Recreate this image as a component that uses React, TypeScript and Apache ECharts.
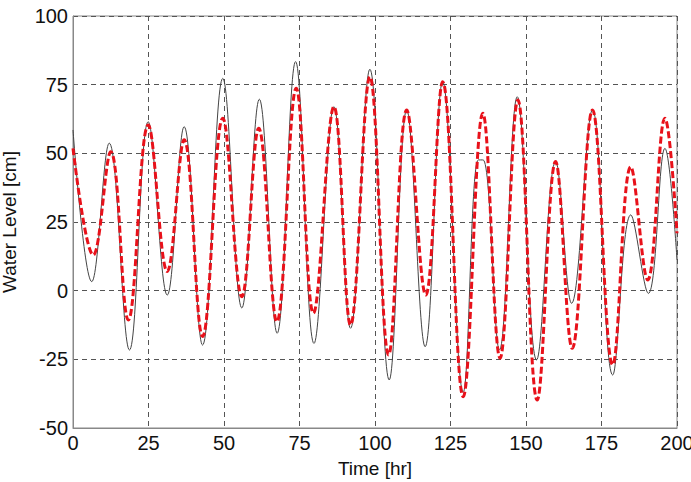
import React, { useEffect, useRef } from "react";
import * as echarts from "echarts";

const xTicks = [0, 25, 50, 75, 100, 125, 150, 175, 200];
const yTicks = [-50, -25, 0, 25, 50, 75, 100];

const observedTime = [0, 6.2, 12, 18.7, 24.9, 31.2, 36.8, 42.9, 49.6, 55.9, 61.7, 67.6, 73.7, 79.8, 86.4, 91.9, 98.3, 104.7, 110.5, 116.6, 122.4, 129.2, 134.2, 135.8, 141.2, 147.1, 153.5, 159.8, 165.1, 172, 178.7, 184.7, 190.5, 196, 200];
const observedLevel = [58.5, 3.3, 53.7, -21.6, 61.5, -1.6, 59.7, -19.8, 77.3, -6.3, 69.7, -15.5, 83.4, -19.2, 67, -13.7, 80.6, -32.5, 65.8, -20.4, 76.1, -37, 47.6, 47.6, -21.6, 70.6, -25.2, 47, -4.6, 65.8, -30.7, 27.6, -1, 51.8, 11.2];

const simulatedTime = [0, 6.7, 12.5, 18.3, 24.9, 31.2, 36.8, 42.9, 49.6, 55.9, 61.5, 67.5, 73.9, 79.6, 86.4, 91.9, 98.3, 104.5, 110.5, 116.8, 122.4, 129.2, 135.7, 141.4, 147.3, 153.7, 159.8, 165.3, 172, 178.7, 184.7, 190.3, 196, 200];
const simulatedLevel = [51.8, 13, 50.6, -10.7, 60.3, 7, 54.9, -16.7, 62.8, -2.2, 59.1, -11.3, 73.7, -8.2, 67, -12.5, 77.9, -23.4, 65.8, -1.6, 76.1, -38.6, 64.6, -24.6, 69.4, -39.8, 47, -21, 65.8, -27, 45.1, 3.9, 62.8, 20.9];

export default function App() {
  const ref = useRef<HTMLDivElement>(null);
  useEffect(() => {
    if (!ref.current) return;
    const chart = echarts.init(ref.current, null, { renderer: "svg" });
    const font = "Liberation Sans, Arial, sans-serif";
    const splitLine = { show: true, lineStyle: { color: "#555", width: 1, type: [5, 4] as any } };
    chart.setOption({
      animation: false,
      backgroundColor: "#fff",
      grid: {
        left: 73, right: 14, top: 16, bottom: 54,
        outerBoundsMode: "none",
        containLabel: false,
        show: true, borderColor: "#888", borderWidth: 1, backgroundColor: "transparent",
      },
      xAxis: {
        type: "value",
        min: xTicks[0],
        max: xTicks[xTicks.length - 1],
        interval: 25,
        name: "Time [hr]",
        nameLocation: "middle",
        nameGap: 31,
        nameTextStyle: { fontFamily: font, fontSize: 19, color: "#111" },
        axisLine: { show: true, onZero: false, lineStyle: { color: "#888" } },
        axisTick: { show: false },
        axisLabel: { fontFamily: font, fontSize: 20, color: "#111", margin: 5 },
        splitLine,
      },
      yAxis: {
        type: "value",
        min: yTicks[0],
        max: yTicks[yTicks.length - 1],
        interval: 25,
        name: "Water Level [cm]",
        nameLocation: "middle",
        nameGap: 54,
        nameTextStyle: { fontFamily: font, fontSize: 19, color: "#111" },
        axisLine: { show: true, onZero: false, lineStyle: { color: "#888" } },
        axisTick: { show: false },
        axisLabel: { fontFamily: font, fontSize: 20, color: "#111", margin: 5 },
        splitLine,
      },
      series: [
        {
          type: "line",
          name: "Observed",
          data: observedTime.map((t, i) => [t, observedLevel[i]]),
          smooth: 0.4,
          showSymbol: false,
          lineStyle: { color: "#444", width: 1 },
          z: 2,
        },
        {
          type: "line",
          name: "Simulated",
          data: simulatedTime.map((t, i) => [t, simulatedLevel[i]]),
          smooth: 0.4,
          showSymbol: false,
          lineStyle: { color: "#e8111a", width: 3, type: [7, 3] as any },
          z: 3,
        },
      ],
    });
    return () => chart.dispose();
  }, []);
  return <div ref={ref} style={{ width: 691, height: 482, position: "absolute", left: 0, top: 0 }} />;
}
